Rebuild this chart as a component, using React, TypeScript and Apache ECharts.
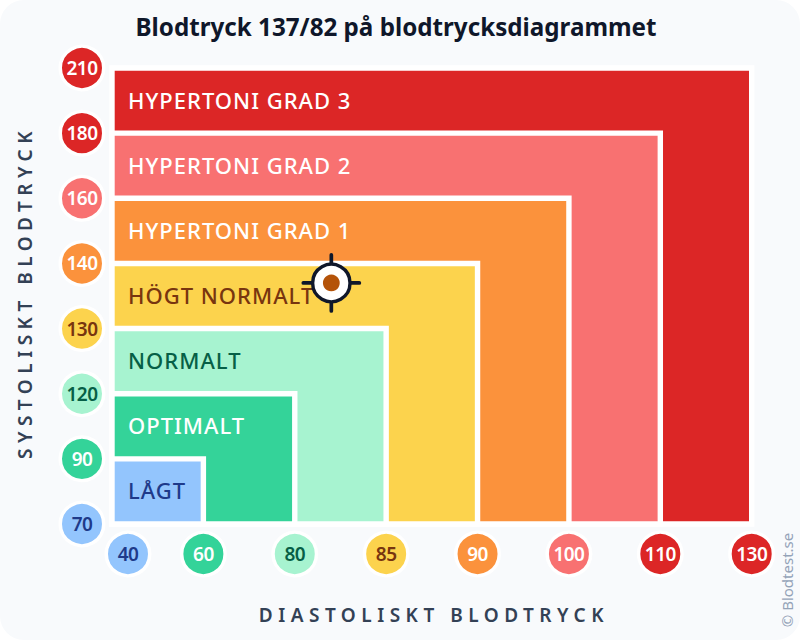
import { useEffect, useRef } from 'react';
import * as echarts from 'echarts';

const FONT = '"Noto Sans", sans-serif';

const diastolicTicks = [40, 60, 80, 85, 90, 100, 110, 130];
const systolicTicks = [70, 90, 120, 130, 140, 160, 180, 210];
// one color per tick, bottom/left to top/right
const tickColors = ['#93c5fd', '#34d399', '#a7f3d0', '#fcd34d', '#fb923c', '#f87171', '#dc2626', '#dc2626'];
const tickTextColors = ['#1e3a8a', '#ffffff', '#065f46', '#78350f', '#ffffff', '#ffffff', '#ffffff', '#ffffff'];

const bandNames = ['LÅGT', 'OPTIMALT', 'NORMALT', 'HÖGT NORMALT', 'HYPERTONI GRAD 1', 'HYPERTONI GRAD 2', 'HYPERTONI GRAD 3'];
const bandColors = ['#93c5fd', '#34d399', '#a7f3d0', '#fcd34d', '#fb923c', '#f87171', '#dc2626'];
const bandTextColors = ['#1e3a8a', '#ffffff', '#065f46', '#78350f', '#ffffff', '#ffffff', '#ffffff'];

const measuredSystolic = 137;
const measuredDiastolic = 82;

// the ticks are not evenly spaced in mmHg, so the axes run on tick index
function toIndex(value: number, ticks: number[]) {
  const i = ticks.findIndex((t, n) => value >= t && value <= ticks[n + 1]);
  return i + (value - ticks[i]) / (ticks[i + 1] - ticks[i]);
}

function badge(value: number, i: number, pos: number[], offset: number[]) {
  return {
    value: pos,
    name: String(value),
    symbolOffset: offset,
    itemStyle: { color: tickColors[i] },
    label: { color: tickTextColors[i] },
  };
}

export default function App() {
  const chartRef = useRef<HTMLDivElement>(null);

  useEffect(() => {
    if (!chartRef.current) return;
    document.body.style.margin = '0';
    const chart = echarts.init(chartRef.current, undefined, { renderer: 'svg' });

    const badgeSeries = {
      type: 'scatter',
      clip: false,
      symbol: 'circle',
      symbolSize: 43.5,
      z: 5,
      itemStyle: { borderColor: '#ffffff', borderWidth: 3.5, opacity: 1 },
      label: { show: true, position: 'inside', formatter: '{b}', fontFamily: FONT, fontSize: 19, fontWeight: 600 },
    };

    chart.setOption({
      animation: false,
      textStyle: { fontFamily: FONT },
      title: {
        text: 'Blodtryck 137/82 på blodtrycksdiagrammet',
        left: 391,
        top: 9,
        textAlign: 'center',
        textStyle: { fontFamily: FONT, fontSize: 24.2, fontWeight: 700, color: '#0f172a' },
      },
      grid: { left: 112, right: 48.3, top: 68, bottom: 116 },
      xAxis: {
        type: 'value',
        min: 0,
        max: 7,
        interval: 1,
        name: 'DIASTOLISKT BLODTRYCK',
        nameLocation: 'middle',
        nameGap: 81,
        nameTextStyle: { fontFamily: FONT, fontSize: 19, fontWeight: 600, color: '#334155', padding: [0, 0, 0, 4] },
        axisLine: { show: false },
        axisTick: { show: false },
        axisLabel: { show: false },
        splitLine: { show: false },
      },
      yAxis: {
        type: 'value',
        min: 0,
        max: 7,
        interval: 1,
        name: 'SYSTOLISKT BLODTRYCK',
        nameLocation: 'middle',
        nameGap: 78,
        nameTextStyle: { fontFamily: FONT, fontSize: 19, fontWeight: 600, color: '#334155', padding: [0, 0, 0, 7] },
        axisLine: { show: false },
        axisTick: { show: false },
        axisLabel: { show: false },
        splitLine: { show: false },
      },
      graphic: [
        {
          type: 'text',
          x: 787,
          y: 580,
          rotation: Math.PI / 2,
          style: {
            text: '© Blodtest.se',
            font: `15px ${FONT}`,
            fill: '#94a3b8',
            align: 'center',
            verticalAlign: 'middle',
          },
        },
      ],
      series: [
        {
          type: 'custom',
          z: 2,
          encode: { x: 0, y: 1 },
          data: bandNames.map((_, i) => [i + 1, i + 1]).reverse(),
          renderItem: (_params: any, api: any) => {
            const level = api.value(0);
            const origin = api.coord([0, 0]);
            const corner = api.coord([level, level]);
            const labelPos = api.coord([0, level - 0.5]);
            return {
              type: 'group',
              children: [
                {
                  type: 'rect',
                  shape: { x: origin[0], y: corner[1], width: corner[0] - origin[0], height: origin[1] - corner[1] },
                  style: { fill: bandColors[level - 1], stroke: '#ffffff', lineWidth: 5.4 },
                },
                {
                  type: 'text',
                  x: labelPos[0] + 16,
                  y: labelPos[1] - 1,
                  style: {
                    text: bandNames[level - 1],
                    fill: bandTextColors[level - 1],
                    font: `500 22px ${FONT}`,
                    verticalAlign: 'middle',
                  },
                },
              ],
            };
          },
        },
        {
          ...badgeSeries,
          data: diastolicTicks.map((v, i) => badge(v, i, [i, 0], [i === 0 ? 16 : 0, 30])),
        },
        {
          ...badgeSeries,
          data: systolicTicks.map((v, i) => badge(v, i, [0, i], [-30, 0])),
        },
        {
          type: 'custom',
          z: 6,
          encode: { x: 0, y: 1 },
          data: [[toIndex(measuredDiastolic, diastolicTicks), toIndex(measuredSystolic, systolicTicks)]],
          renderItem: (_params: any, api: any) => {
            const [x, y] = api.coord([api.value(0), api.value(1)]);
            const ink = { stroke: '#0f172a', lineWidth: 3.7, lineCap: 'round' };
            return {
              type: 'group',
              x,
              y,
              children: [
                { type: 'line', shape: { x1: -28, y1: 0, x2: 28, y2: 0 }, style: ink },
                { type: 'line', shape: { x1: 0, y1: -28, x2: 0, y2: 28 }, style: ink },
                { type: 'circle', shape: { cx: 0, cy: 0, r: 18.7 }, style: { fill: '#ffffff', stroke: '#0f172a', lineWidth: 3.4 } },
                { type: 'circle', shape: { cx: 0, cy: 0, r: 8.4 }, style: { fill: '#b45309' } },
              ],
            };
          },
        },
      ],
    });

    // zrender has no letter spacing of its own
    chart.getDom().querySelectorAll('text').forEach((el) => {
      const text = el.textContent ?? '';
      if (text.endsWith('BLODTRYCK')) el.style.letterSpacing = '5.5px';
      if (bandNames.includes(text)) el.style.letterSpacing = '1px';
      if (/^\d+$/.test(text)) el.style.letterSpacing = '-0.5px';
    });

    return () => {
      chart.dispose();
    };
  }, []);

  return (
    <div
      ref={chartRef}
      style={{ width: 800, height: 640, background: '#f8fafc', borderRadius: 24, overflow: 'hidden' }}
    />
  );
}
